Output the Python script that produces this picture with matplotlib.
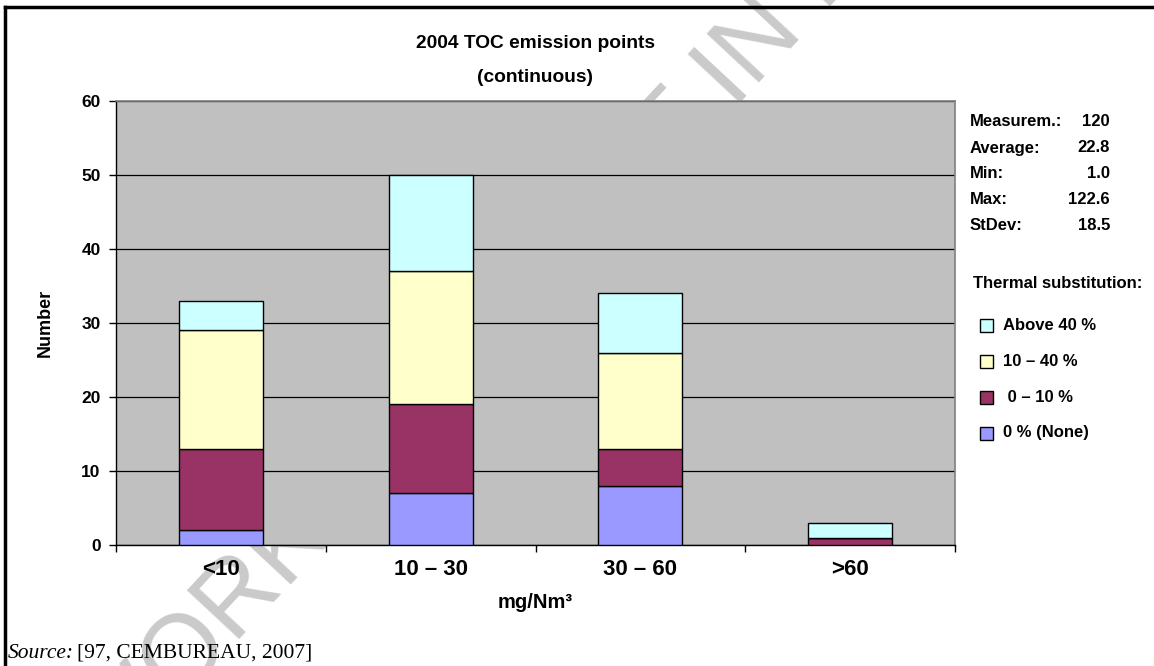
import matplotlib
matplotlib.use('Agg')
import matplotlib.pyplot as plt
from matplotlib.patches import Rectangle
from matplotlib.lines import Line2D
import numpy as np

plt.rcParams['font.family'] = ['Liberation Sans', 'DejaVu Sans']

# Data
categories = ['<10', '10 – 30', '30 – 60', '>60']
series_names = ['0 % (None)', ' 0 – 10 %', '10 – 40 %', 'Above 40 %']
none_pct = [2, 7, 8, 0]
pct_0_10 = [11, 12, 5, 1]
pct_10_40 = [16, 18, 13, 0]
above_40 = [4, 13, 8, 2]
series_colors = ['#9999FF', '#993366', '#FFFFCC', '#CCFFFF']

stat_labels = ['Measurem.:', 'Average:', 'Min:', 'Max:', 'StDev:']
stat_values = ['120', '22.8', '1.0', '122.6', '18.5']

W, H = 1154, 666


def fx(px):
    return px / W


def fy(py):
    return 1 - py / H


fig = plt.figure(figsize=(W / 100, H / 100), dpi=100)

# faint watermark behind the chart
fig.text(fx(650), fy(160), 'WORKING DRAFT IN PROGRESS', fontsize=75,
         color='#cacaca', rotation=47, rotation_mode='anchor',
         ha='center', va='center', zorder=-5)

# page frame (top and left rules)
fig.add_artist(Line2D([fx(5), 1], [fy(7), fy(7)], color='black', lw=2.5))
fig.add_artist(Line2D([fx(5), fx(5)], [fy(7), 0], color='black', lw=2.5))

ax = fig.add_axes([fx(116), fy(545), fx(955) - fx(116), fy(101) - fy(545)])
ax.set_facecolor('#C0C0C0')

x = np.arange(len(categories))
stack = [none_pct, pct_0_10, pct_10_40, above_40]
bottom = np.zeros(len(categories))
for vals, name, col in zip(stack, series_names, series_colors):
    vals = np.array(vals)
    ax.bar(x, vals, 0.4, bottom=bottom, color=col, edgecolor='black',
           linewidth=1, label=name, zorder=3)
    bottom += vals

ax.set_xlim(-0.5, len(categories) - 0.5)
ax.set_ylim(0, 60)
ax.set_yticks(range(0, 61, 10))
ax.yaxis.grid(True, color='black', lw=0.9, zorder=1)
ax.set_axisbelow(True)

ax.set_xticks(x)
ax.set_xticklabels(categories, fontsize=16, fontweight='bold')
ax.set_xticks(np.arange(-0.5, len(categories)), minor=True)
ax.tick_params(axis='x', which='major', length=0, pad=10)
ax.tick_params(axis='x', which='minor', length=5, width=1, direction='out')
ax.tick_params(axis='y', length=5, width=1, direction='out', pad=6,
               labelsize=12.5)
for lab in ax.get_yticklabels():
    lab.set_fontweight('bold')

for side in ['left', 'bottom']:
    ax.spines[side].set_color('black')
    ax.spines[side].set_linewidth(1)
for side in ['top', 'right']:
    ax.spines[side].set_color('#808080')
    ax.spines[side].set_linewidth(1.2)

# titles and axis labels
fig.text(fx(535), fy(43), '2004 TOC emission points', fontsize=13.8,
         fontweight='bold', ha='center', va='center')
fig.text(fx(535), fy(78), '(continuous)', fontsize=13.8,
         fontweight='bold', ha='center', va='center')
fig.text(fx(535), fy(603), 'mg/Nm³', fontsize=14.5,
         fontweight='bold', ha='center', va='center')
fig.text(fx(45), fy(323), 'Number', fontsize=13, fontweight='bold',
         rotation=90, ha='center', va='center')

# statistics box
for i, (lab, val) in enumerate(zip(stat_labels, stat_values)):
    yy = fy(122 + i * 26)
    fig.text(fx(970), yy, lab, fontsize=12, fontweight='bold',
             ha='left', va='center')
    fig.text(fx(1110), yy, val, fontsize=12, fontweight='bold',
             ha='right', va='center')

fig.text(fx(973), fy(284), 'Thermal substitution:', fontsize=12,
         fontweight='bold', ha='left', va='center')

# manual legend, top entry is the top of the stack
for i, k in enumerate(range(len(series_names) - 1, -1, -1)):
    yc = 325 + i * 36
    fig.add_artist(Rectangle((fx(980), fy(yc + 6.5)), fx(13), 13 / H,
                             facecolor=series_colors[k], edgecolor='black',
                             lw=1, transform=fig.transFigure))
    fig.text(fx(1003), fy(yc), series_names[k], fontsize=12,
             fontweight='bold', ha='left', va='center')

# source line
fig.text(fx(8), fy(653), 'Source:', fontsize=15.5, style='italic',
         family='Liberation Serif', ha='left', va='center')
fig.text(fx(77), fy(653), '[97, CEMBUREAU, 2007]', fontsize=15.5,
         family='Liberation Serif', ha='left', va='center')

fig.savefig('out.png', dpi=100)
